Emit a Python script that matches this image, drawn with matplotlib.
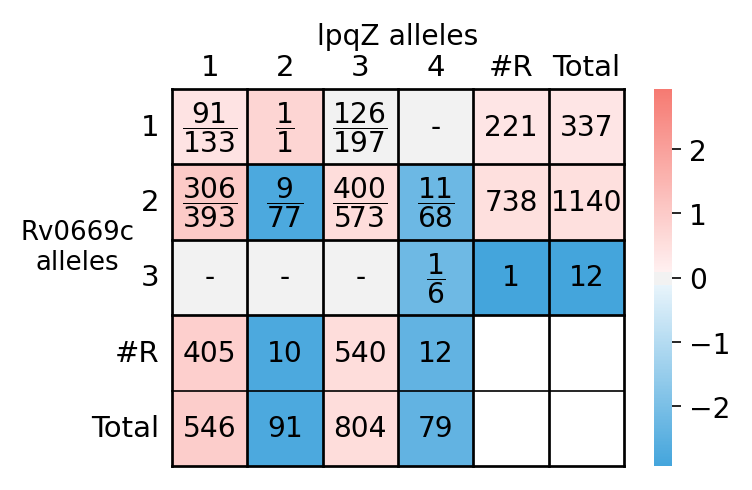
import matplotlib
matplotlib.use('Agg')
import matplotlib.pyplot as plt
from matplotlib.colors import LinearSegmentedColormap
import seaborn as sns
import numpy as np

# valeurs de la carte (échelle de couleur)
col_labels = ['1', '2', '3', '4', '#R', 'Total']
row_labels = ['1', '2', '3', '#R', 'Total']
row1 = [0.40, 0.74, 0.0, 0.0, 0.35, 0.35]
row2 = [1.03, -2.78, 0.57, -2.24, 0.50, 0.50]
row3 = [0.0, 0.0, 0.0, -2.20, -2.93, -2.93]
row_r = [0.88, -2.77, 0.57, -2.42, np.nan, np.nan]
row_tot = [0.93, -2.77, 0.57, -2.42, np.nan, np.nan]

# texte des cases
txt1 = [r'$\dfrac{91}{133}$', r'$\dfrac{1}{1}$', r'$\dfrac{126}{197}$', '-', '221', '337']
txt2 = [r'$\dfrac{306}{393}$', r'$\dfrac{9}{77}$', r'$\dfrac{400}{573}$', r'$\dfrac{11}{68}$', '738', '1140']
txt3 = ['-', '-', '-', r'$\dfrac{1}{6}$', '1', '12']
txt_r = ['405', '10', '540', '12', '', '']
txt_tot = ['546', '91', '804', '79', '', '']

values = np.array([row1, row2, row3, row_r, row_tot])
annot = np.array([txt1, txt2, txt3, txt_r, txt_tot])

# palette bleu -> gris -> rouge avec bande grise autour de 0
cmap = LinearSegmentedColormap.from_list('bgr', [
    (0.0, '#44a5dc'),
    (0.479, '#e8f4fb'),
    (0.479, '#f2f2f2'),
    (0.517, '#f2f2f2'),
    (0.517, '#fff0f0'),
    (1.0, '#f67a72'),
])

fig = plt.figure(figsize=(5.02, 3.273), dpi=150)
ax = fig.add_axes([0.2284, 0.0489, 0.6003, 0.7678])
cax = fig.add_axes([0.8685, 0.0489, 0.0239, 0.7678])

sns.heatmap(values, ax=ax, cbar_ax=cax, cmap=cmap, vmin=-2.93, vmax=2.93,
            annot=annot, fmt='', annot_kws={'fontsize': 13.5, 'color': 'black'},
            xticklabels=col_labels, yticklabels=row_labels, linewidths=0)

# lignes de la grille
for x in range(7):
    ax.axvline(x, color='black', lw=1.3, clip_on=False)
for y in range(6):
    ax.axhline(y, color='black', lw=0.8 if y == 4 else 1.3, clip_on=False)

ax.xaxis.tick_top()
ax.xaxis.set_label_position('top')
ax.set_xlabel('lpqZ alleles', fontsize=13.5)
ax.set_ylabel('Rv0669c\nalleles', fontsize=12.5, rotation=0, va='center', ha='center')
ax.yaxis.set_label_coords(-0.21, 0.581)
ax.tick_params(length=0, labelsize=14)
ax.tick_params(axis='y', rotation=0, pad=6)
ax.tick_params(axis='x', pad=4)

cax.set_yticks([-2, -1, 0, 1, 2])
cax.tick_params(labelsize=13.5, length=4.5)

plt.savefig('out.png', dpi=150)
